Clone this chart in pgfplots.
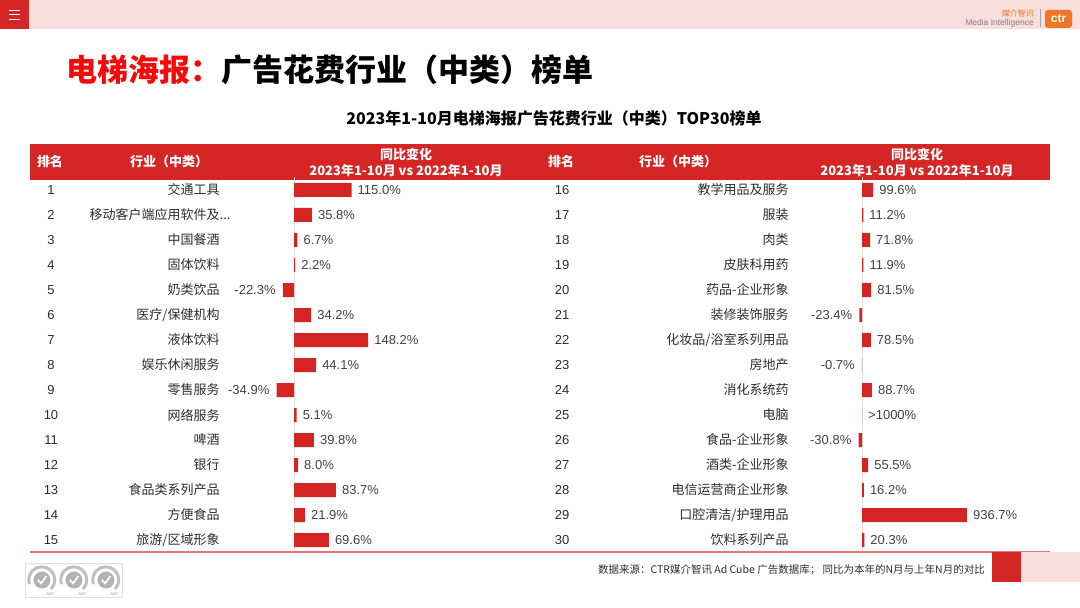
\documentclass[border=0pt]{standalone}
\usepackage{pgfplots}
\pgfplotsset{compat=1.18}
\usepackage{pgfplotstable}
\usepackage{fontspec}
\setmainfont{Liberation Sans}
\newfontfamily\cjk{Noto Sans CJK SC}
\definecolor{barred}{RGB}{212,36,36}
\definecolor{hdrred}{RGB}{213,37,37}
\definecolor{titlered}{RGB}{245,10,10}
\definecolor{toppink}{RGB}{250,222,222}
\definecolor{txt}{RGB}{45,45,45}
\definecolor{lineRed}{RGB}{228,120,120}
\definecolor{ctrorange}{RGB}{238,118,38}

\pgfplotstableread{
r v lab
1 115.0 115.0
2 35.8 35.8
3 6.7 6.7
4 2.2 2.2
6 34.2 34.2
7 148.2 148.2
8 44.1 44.1
10 5.1 5.1
11 39.8 39.8
12 8.0 8.0
13 83.7 83.7
14 21.9 21.9
15 69.6 69.6
}\leftpos
\pgfplotstableread{
r v lab
5 -22.3 -22.3
9 -34.9 -34.9
}\leftneg

\pgfplotstableread{
r v lab
1 99.6 99.6
2 11.2 11.2
3 71.8 71.8
4 11.9 11.9
5 81.5 81.5
7 78.5 78.5
9 88.7 88.7
10 0 >1000
12 55.5 55.5
13 16.2 16.2
14 936.7 936.7
15 20.3 20.3
}\rightpos
\pgfplotstableread{
r v lab
6 -23.4 -23.4
8 -0.7 -0.7
11 -30.8 -30.8
}\rightneg

\pgfplotsset{rowbars/.style={
  scale only axis, height=375pt, ymin=0.5, ymax=15.5, y dir=reverse,
  xbar, bar width=14pt, bar shift=0pt, clip=false,
  axis line style={draw=none}, tick style={draw=none},
  xtick=\empty, ytick={1,...,15},
  yticklabel style={font=\cjk\fontsize{13}{13}\selectfont, text=txt, anchor=east, inner sep=0pt},
  extra x ticks={0}, extra x tick labels={},
  extra x tick style={grid=major, major grid style={draw=gray!25, line width=1pt}},
}}
\pgfplotsset{barplot/.style 2 args={
  fill=barred, draw=none,
  point meta=explicit symbolic,
  nodes near coords={\pgfplotspointmeta\%},
  nodes near coords style={font=\fontsize{13}{13}\selectfont, text=txt!90, anchor=#1, inner sep=4pt, xshift=#2},
}}

\begin{document}
\begin{tikzpicture}[x=1pt,y=1pt]
\useasboundingbox (0,0) rectangle (1080,608);
\fill[white] (0,0) rectangle (1080,608);
% top band
\fill[toppink] (0,579) rectangle (1080,608);
\fill[hdrred] (0,579) rectangle (29,608);
\foreach \yy in {598,593.5,589} \draw[white, line width=0.9pt] (9,\yy) -- (20,\yy);
% logo
\node[font=\cjk\fontsize{8}{8}\selectfont, text=ctrorange, anchor=east, inner sep=0] at (1034,595) {媒介智讯};
\node[font=\fontsize{8.5}{8.5}\selectfont, text=gray, anchor=east, inner sep=0] at (1034,584.5) {Media Intelligence};
\draw[gray!70, line width=0.6pt] (1040,581) -- (1040,599);
\fill[ctrorange, rounded corners=3pt] (1045,580) rectangle (1072,598);
\node[font=\bfseries\fontsize{12}{12}\selectfont, text=white, inner sep=0] at (1058.5,589) {ctr};
% title
\node[anchor=west, font=\cjk\bfseries\fontsize{31}{31}\selectfont, inner sep=0] at (66,538) {\textcolor{titlered}{电梯海报：}广告花费行业（中类）榜单};
\node[font=\cjk\bfseries\fontsize{16}{16}\selectfont, inner sep=0] at (554,490) {2023年1-10月电梯海报广告花费行业（中类）TOP30榜单};
% header band
\fill[hdrred] (30,428) rectangle (1050,464);
\begin{scope}[every node/.style={font=\cjk\bfseries\fontsize{13}{13}\selectfont, text=white, inner sep=0}]
\node at (50,446) {排名};
\node at (169,446) {行业（中类）};
\node at (406,454) {同比变化};
\node at (406,437) {2023年1-10月 vs 2022年1-10月};
\node at (561,446) {排名};
\node at (678,446) {行业（中类）};
\node at (917,454) {同比变化};
\node at (917,437) {2023年1-10月 vs 2022年1-10月};
\end{scope}
% rank numbers
\foreach \i in {1,...,15} {
  \pgfmathtruncatemacro\j{\i+15}
  \node[font=\fontsize{13}{13}\selectfont, text=txt, inner sep=0] at (51,{418-25*(\i-1)}) {\i};
  \node[font=\fontsize{13}{13}\selectfont, text=txt, inner sep=0] at (562,{418-25*(\i-1)}) {\j};
}
% left axis
\begin{axis}[rowbars, at={(224pt,430.5pt)}, anchor=north west, width=301pt,
  xmin=-140, xmax=462,
  yticklabels={交通工具,{移动客户端应用软件及.{}.{}.\hspace*{-11pt}},中国餐酒,固体饮料,奶类饮品,医疗/保健机构,液体饮料,娱乐休闲服务,零售服务,网络服务,啤酒,银行,食品类系列产品,方便食品,旅游/区域形象}]
\addplot[barplot={west}{2pt}] table[x=v, y=r, meta=lab] {\leftpos};
\addplot[barplot={east}{-3pt}] table[x=v, y=r, meta=lab] {\leftneg};
\end{axis}
% right axis
\begin{axis}[rowbars, at={(793pt,430.5pt)}, anchor=north west, width=255pt,
  xmin=-616.07, xmax=1660.7,
  yticklabels={教学用品及服务,服装,肉类,皮肤科用药,药品-企业形象,装修装饰服务,化妆品/浴室系列用品,房地产,消化系统药,电脑,食品-企业形象,酒类-企业形象,电信运营商企业形象,口腔清洁/护理用品,饮料系列产品}]
\addplot[barplot={west}{2pt}] table[x=v, y=r, meta=lab] {\rightpos};
\addplot[barplot={east}{-3pt}] table[x=v, y=r, meta=lab] {\rightneg};
\end{axis}
% bottom line and footer
\draw[lineRed, line width=1.3pt] (30,56) -- (1050,56);
\fill[hdrred] (992,26) rectangle (1021,56);
\fill[toppink] (1021,26) rectangle (1080,56);
\node[anchor=east, font=\cjk\fontsize{10.5}{10.5}\selectfont, text=txt, inner sep=0] at (985,38) {数据来源：CTR媒介智讯 Ad Cube 广告数据库； 同比为本年的N月与上年N月的对比};
% SGS marks
\draw[gray!25, line width=0.6pt] (25,11) rectangle (122,45);
\foreach \cx in {42,74,106} {
  \draw[gray!50, line width=3pt] (\cx+9,19) arc (-45:200:13);
  \fill[gray!60] (\cx,28) circle (8.5);
  \draw[white, line width=1.6pt] (\cx-4,28) -- (\cx-1,24.5) -- (\cx+4.5,32);
  \node[font=\fontsize{3.5}{3.5}\selectfont, text=gray, inner sep=0] at (\cx+8,14) {SGS};
}
\end{tikzpicture}
\end{document}
